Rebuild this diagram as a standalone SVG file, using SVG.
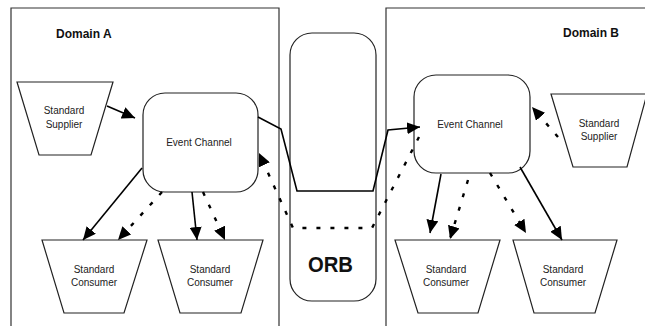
<svg xmlns="http://www.w3.org/2000/svg" width="645" height="326" viewBox="0 0 645 326">
<style>
.dom{fill:none;stroke:#333;stroke-width:1.2}
.box{fill:#fff;stroke:#222;stroke-width:1.2}
.lbl{font-family:"Liberation Sans",Arial,sans-serif;font-size:10px;fill:#222;text-anchor:middle}
.title{font-family:"Liberation Sans",Arial,sans-serif;font-size:12px;font-weight:bold;fill:#111}
.solid{fill:none;stroke:#000;stroke-width:1.6}
.dash{fill:none;stroke:#000;stroke-width:2.4;stroke-dasharray:4 10}
</style>
<defs>
<marker id="ah" markerUnits="userSpaceOnUse" markerWidth="14" markerHeight="12" viewBox="0 0 14 12" refX="13" refY="6" orient="auto">
<path d="M0,0 L13,6 L0,12 Z" fill="#000"/>
</marker>
</defs>
<rect width="645" height="326" fill="#fff"/>
<g id="domainA">
<path class="dom" d="M11,330 V8 H279 V330"/>
<text class="title" x="56" y="38">Domain A</text>
</g>
<g id="domainB">
<path class="dom" d="M386,330 V8 H650"/>
<text class="title" x="563" y="37">Domain B</text>
</g>
<g id="orb">
<rect class="box" x="290" y="33" width="86" height="268" rx="22" ry="22"/>
<text x="330.5" y="272" text-anchor="middle" font-family="'Liberation Sans',Arial,sans-serif" font-size="22" font-weight="bold" fill="#111" textLength="45" lengthAdjust="spacingAndGlyphs">ORB</text>
</g>
<g id="supplierA">
<polygon class="box" points="17,82 113,82 91,155 39,155"/>
<text class="lbl" x="64" y="114">Standard</text>
<text class="lbl" x="64" y="128">Supplier</text>
</g>
<g id="channelA">
<rect class="box" x="143" y="93" width="115" height="99" rx="22" ry="22"/>
<text class="lbl" x="199" y="146">Event Channel</text>
</g>
<g id="consumerA1">
<polygon class="box" points="42,240 147,240 124,313 64,313"/>
<text class="lbl" x="94" y="273">Standard</text>
<text class="lbl" x="94" y="286">Consumer</text>
</g>
<g id="consumerA2">
<polygon class="box" points="158,240 263,240 241,313 180,313"/>
<text class="lbl" x="210" y="273">Standard</text>
<text class="lbl" x="210" y="286">Consumer</text>
</g>
<g id="channelB">
<rect class="box" x="414" y="75" width="116" height="98" rx="22" ry="22"/>
<text class="lbl" x="470" y="128">Event Channel</text>
</g>
<g id="supplierB">
<polygon class="box" points="551,94 647,94 627,167 573,167"/>
<text class="lbl" x="599" y="127">Standard</text>
<text class="lbl" x="599" y="140">Supplier</text>
</g>
<g id="consumerB1">
<polygon class="box" points="395,240 500,240 478,313 418,313"/>
<text class="lbl" x="446" y="273">Standard</text>
<text class="lbl" x="446" y="286">Consumer</text>
</g>
<g id="consumerB2">
<polygon class="box" points="513,240 617,240 595,313 534,313"/>
<text class="lbl" x="563" y="273">Standard</text>
<text class="lbl" x="563" y="286">Consumer</text>
</g>
<g id="connectors">
<line class="solid" x1="107" y1="106" x2="135" y2="118" marker-end="url(#ah)"/>
<polyline class="solid" points="258,117 281,129 297,191 373,191 388,130 420,127" marker-end="url(#ah)"/>
<polyline class="dash" points="419,137 372,228 293,228 259,153" marker-end="url(#ah)"/>
<line class="solid" x1="142" y1="168" x2="83" y2="240" marker-end="url(#ah)"/>
<line class="dash" x1="162" y1="192" x2="118" y2="240" marker-end="url(#ah)"/>
<line class="solid" x1="192" y1="192" x2="197" y2="240" marker-end="url(#ah)"/>
<line class="dash" x1="203" y1="192" x2="225" y2="240" marker-end="url(#ah)"/>
<line class="dash" x1="558" y1="137" x2="532" y2="107" marker-end="url(#ah)"/>
<line class="solid" x1="441" y1="174" x2="430" y2="233" marker-end="url(#ah)"/>
<line class="dash" x1="468" y1="180" x2="450" y2="239" marker-end="url(#ah)"/>
<line class="dash" x1="490" y1="173" x2="526" y2="233" marker-end="url(#ah)"/>
<line class="solid" x1="520" y1="167" x2="562" y2="240" marker-end="url(#ah)"/>
</g>
</svg>
